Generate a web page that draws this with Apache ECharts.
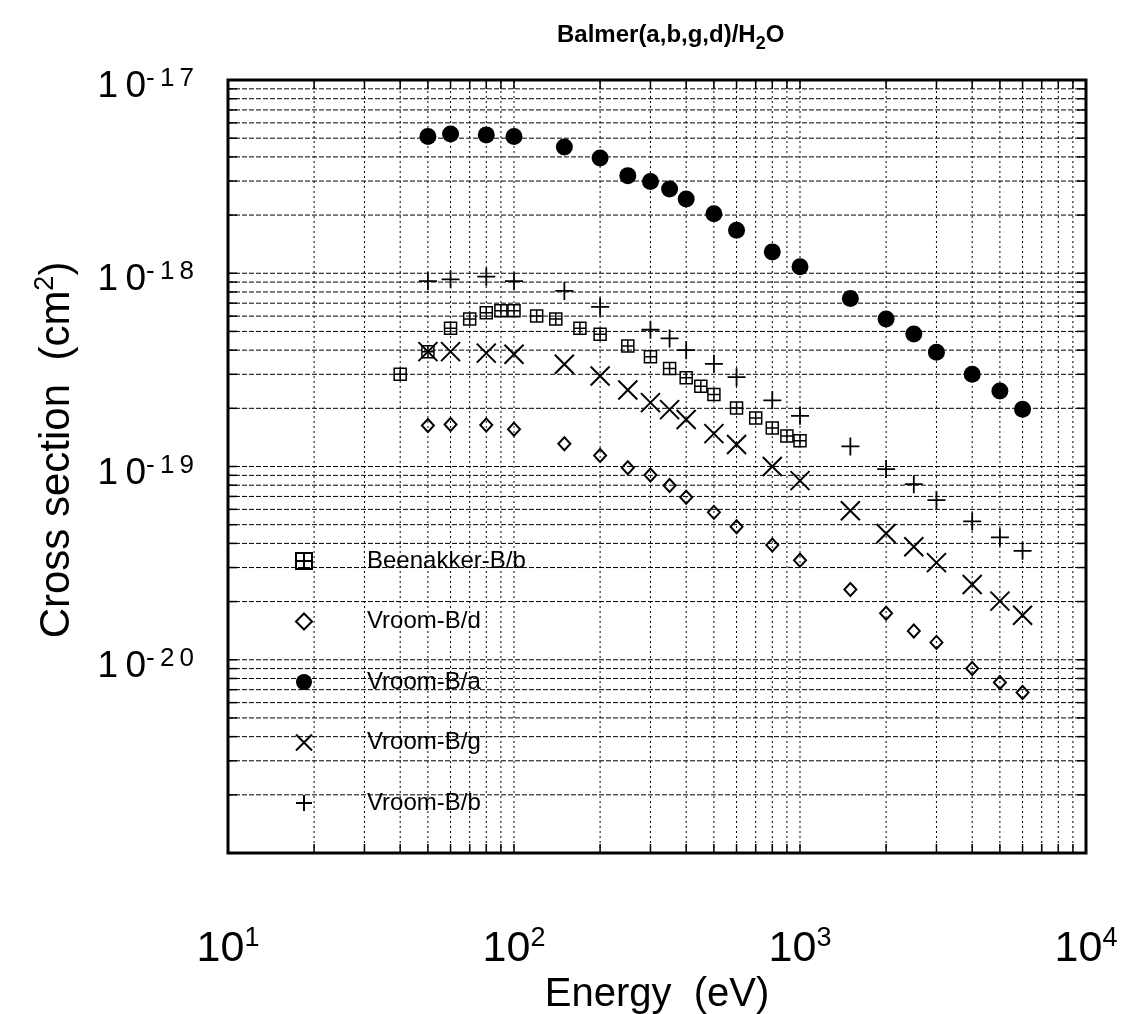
<!DOCTYPE html>
<html>
<head>
<meta charset="utf-8">
<title>Balmer(a,b,g,d)/H2O</title>
<script src="https://cdn.jsdelivr.net/npm/echarts@6/dist/echarts.min.js"></script>
<style>
  html, body { margin: 0; padding: 0; background: #fff; }
  #chart { width: 1124px; height: 1014px; }
</style>
</head>
<body>
<div id="chart"></div>
<script>
// Balmer emission cross sections for H+ on H2O (cm^2) versus projectile energy (eV)

const energyBeenakker = [40, 50, 60, 70, 80, 90, 100, 120, 140, 170, 200, 250, 300, 350, 400, 450, 500, 600, 700, 800, 900, 1000];
const beenakkerB = [3.0e-19, 3.93e-19, 5.2e-19, 5.8e-19, 6.25e-19, 6.4e-19, 6.4e-19, 6.0e-19, 5.8e-19, 5.2e-19, 4.83e-19, 4.2e-19, 3.7e-19, 3.21e-19, 2.88e-19, 2.6e-19, 2.36e-19, 2.01e-19, 1.78e-19, 1.58e-19, 1.44e-19, 1.36e-19];

const energyVroom = [50, 60, 80, 100, 150, 200, 250, 300, 350, 400, 500, 600, 800, 1000, 1500, 2000, 2500, 3000, 4000, 5000, 6000];
const vroomD = [1.63e-19, 1.65e-19, 1.64e-19, 1.56e-19, 1.31e-19, 1.14e-19, 9.86e-20, 9.04e-20, 7.98e-20, 6.93e-20, 5.79e-20, 4.88e-20, 3.92e-20, 3.27e-20, 2.31e-20, 1.74e-20, 1.41e-20, 1.23e-20, 9.0e-21, 7.63e-21, 6.77e-21];
const vroomA = [5.1e-18, 5.25e-18, 5.2e-18, 5.1e-18, 4.5e-18, 3.95e-18, 3.2e-18, 2.98e-18, 2.73e-18, 2.42e-18, 2.03e-18, 1.67e-18, 1.29e-18, 1.08e-18, 7.4e-19, 5.8e-19, 4.85e-19, 3.9e-19, 3.0e-19, 2.46e-19, 1.98e-19];
const vroomG = [3.93e-19, 3.93e-19, 3.86e-19, 3.81e-19, 3.38e-19, 2.94e-19, 2.49e-19, 2.14e-19, 1.97e-19, 1.75e-19, 1.48e-19, 1.3e-19, 1.0e-19, 8.45e-20, 5.9e-20, 4.5e-20, 3.84e-20, 3.18e-20, 2.45e-20, 2.01e-20, 1.7e-20];

const energyVroomB = [50, 60, 80, 100, 150, 200, 300, 350, 400, 500, 600, 800, 1000, 1500, 2000, 2500, 3000, 4000, 5000, 6000];
const vroomB = [9.1e-19, 9.3e-19, 9.6e-19, 9.1e-19, 8.1e-19, 6.7e-19, 5.1e-19, 4.6e-19, 4.0e-19, 3.4e-19, 2.9e-19, 2.2e-19, 1.83e-19, 1.27e-19, 9.7e-20, 8.1e-20, 6.7e-20, 5.2e-20, 4.3e-20, 3.66e-20];

const seriesNames = ['Beenakker-B/b', 'Vroom-B/d', 'Vroom-B/a', 'Vroom-B/g', 'Vroom-B/b'];

// decade tick labels (powers of ten)
const xExponents = [1, 2, 3, 4];
const yExponents = [-21, -20, -19, -18, -17];

const X_MIN = 10, X_MAX = 1e4;
const Y_MIN = 1e-21, Y_MAX = 1e-17;

const FONT = "'Liberation Sans', Arial, Helvetica, sans-serif";
const THIN = '\u2009';

function pairs(xs, ys) { return xs.map((x, i) => [x, ys[i]]); }

// positions m x 10^k (m = 1..9) strictly inside the axis range
function logGridValues(lo, hi) {
  const out = [];
  const k0 = Math.round(Math.log10(lo)), k1 = Math.round(Math.log10(hi));
  for (let k = k0; k < k1; k++) {
    for (let m = 1; m <= 9; m++) {
      const v = m * Math.pow(10, k);
      if (v > lo * 1.0001 && v < hi * 0.9999) out.push(v);
    }
  }
  return out;
}
const xGrid = logGridValues(X_MIN, X_MAX);
const yGrid = logGridValues(Y_MIN, Y_MAX);

function expOf(v, list) {
  const e = Math.round(Math.log10(v));
  return list.indexOf(e) >= 0 ? e : null;
}
function spaced(s) { return String(s).split('').join(THIN); }

const hollow = (w) => ({ color: 'rgba(0,0,0,0)', borderColor: '#000', borderWidth: w, opacity: 1 });

const SYM_BOXPLUS = 'path://M0,0L10,0L10,10L0,10Z M5,0L5,10 M0,5L10,5';
const SYM_CROSS = 'path://M0,0L10,10 M10,0L0,10';
const SYM_PLUS = 'path://M5,0L5,10 M0,5L10,5';

const chart = echarts.init(document.getElementById('chart'), null, { renderer: 'canvas' });

// full-height dotted / full-width dashed grid lines; item = [x, y, kind]
function gridLine(params, api) {
  const kind = api.value(2);
  let a, b, dash;
  if (kind === 0) {
    a = api.coord([api.value(0), Y_MIN]); b = api.coord([api.value(0), Y_MAX]); dash = [2, 3];
  } else {
    a = api.coord([X_MIN, api.value(1)]); b = api.coord([X_MAX, api.value(1)]); dash = [5, 2];
  }
  return {
    type: 'line', silent: true,
    shape: { x1: a[0], y1: a[1], x2: b[0], y2: b[1] },
    style: { stroke: '#000', lineWidth: 1, lineDash: dash }
  };
}
const gridData = xGrid.map(v => [v, Y_MIN, 0]).concat(yGrid.map(v => [X_MIN, v, 1]));

// short inward ticks on all four sides of the frame; item = [x, y, side]
function frameTick(params, api) {
  const side = api.value(2);
  const p = api.coord([api.value(0), api.value(1)]);
  const L = 9;
  let q;
  if (side === 0) q = [p[0], p[1] - L];
  else if (side === 1) q = [p[0], p[1] + L];
  else if (side === 2) q = [p[0] + L, p[1]];
  else q = [p[0] - L, p[1]];
  return { type: 'line', silent: true, shape: { x1: p[0], y1: p[1], x2: q[0], y2: q[1] }, style: { stroke: '#000', lineWidth: 1.5 } };
}
const tickData = []
  .concat(xGrid.map(v => [v, Y_MIN, 0]), xGrid.map(v => [v, Y_MAX, 1]))
  .concat(yGrid.map(v => [X_MIN, v, 2]), yGrid.map(v => [X_MAX, v, 3]));

const option = {
  animation: false,
  backgroundColor: '#fff',
  textStyle: { fontFamily: FONT, color: '#000' },
  title: {
    text: '{t|Balmer(a,b,g,d)/H}{sub|2}{t|O}',
    left: 552, top: 12,
    textStyle: {
      rich: {
        t: { fontFamily: FONT, fontSize: 24, fontWeight: 'bold', color: '#000', lineHeight: 36 },
        sub: { fontFamily: FONT, fontSize: 18, fontWeight: 'bold', color: '#000', lineHeight: 18, verticalAlign: 'bottom' }
      }
    }
  },
  legend: {
    orient: 'vertical',
    left: 295, top: 549,
    padding: 0,
    itemWidth: 16, itemHeight: 16,
    itemGap: 36.5,
    data: seriesNames,
    selectedMode: false,
    itemStyle: { opacity: 1 },
    textStyle: { fontFamily: FONT, fontSize: 24, color: '#000', lineHeight: 24, padding: [0, 0, 0, 50] }
  },
  grid: {
    left: 228, top: 80, width: 858, height: 773,
    containLabel: false,
    outerBoundsMode: 'none',
    show: true, borderColor: '#000', borderWidth: 3
  },
  graphic: [
    {
      type: 'text',
      x: 57, y: 450,
      rotation: Math.PI / 2,
      style: {
        text: '{n|Cross section  (cm}{s|2}{n|)}',
        align: 'center', verticalAlign: 'middle',
        rich: {
          n: { fontFamily: FONT, fontSize: 42, lineHeight: 50, fill: '#000' },
          s: { fontFamily: FONT, fontSize: 27, lineHeight: 27, fill: '#000', verticalAlign: 'top' }
        }
      }
    }
  ],
  xAxis: {
    type: 'log', logBase: 10, min: X_MIN, max: X_MAX,
    axisLine: { show: false }, axisTick: { show: false }, splitLine: { show: false },
    axisLabel: {
      margin: 72,
      formatter: (v) => {
        const e = expOf(v, xExponents);
        return e === null ? '' : '{b|10}{s|' + e + '}';
      },
      rich: {
        b: { fontFamily: FONT, fontSize: 43, lineHeight: 48, color: '#000' },
        s: { fontFamily: FONT, fontSize: 27, lineHeight: 27, color: '#000', verticalAlign: 'top' }
      }
    },
    name: 'Energy  (eV)',
    nameLocation: 'middle', nameGap: 114,
    nameTextStyle: { fontFamily: FONT, fontSize: 40, color: '#000' }
  },
  yAxis: {
    type: 'log', logBase: 10, min: Y_MIN, max: Y_MAX,
    axisLine: { show: false }, axisTick: { show: false }, splitLine: { show: false },
    axisLabel: {
      margin: 34,
      padding: [14, 0, 0, 0],
      formatter: (v) => {
        const e = expOf(v, yExponents);
        return e === null ? '' : '{b|' + spaced('10') + '}{s|' + spaced(e) + '}';
      },
      rich: {
        b: { fontFamily: FONT, fontSize: 37, lineHeight: 42, color: '#000' },
        s: { fontFamily: FONT, fontSize: 26, lineHeight: 26, color: '#000', verticalAlign: 'top' }
      }
    }
  },
  series: [
    { name: 'grid', type: 'custom', renderItem: gridLine, data: gridData, silent: true, z: 1 },
    { name: 'ticks', type: 'custom', renderItem: frameTick, data: tickData, silent: true, z: 2 },
    {
      name: 'Beenakker-B/b', type: 'scatter', z: 5,
      symbol: SYM_BOXPLUS, symbolSize: 12,
      itemStyle: hollow(1.5),
      data: pairs(energyBeenakker, beenakkerB)
    },
    {
      name: 'Vroom-B/d', type: 'scatter', z: 5,
      symbol: 'diamond', symbolSize: [12, 13],
      itemStyle: hollow(2),
      data: pairs(energyVroom, vroomD)
    },
    {
      name: 'Vroom-B/a', type: 'scatter', z: 5,
      symbol: 'circle', symbolSize: 17,
      itemStyle: { color: '#000', opacity: 1 },
      data: pairs(energyVroom, vroomA)
    },
    {
      name: 'Vroom-B/g', type: 'scatter', z: 5,
      symbol: SYM_CROSS, symbolSize: 19,
      itemStyle: hollow(2),
      data: pairs(energyVroom, vroomG)
    },
    {
      name: 'Vroom-B/b', type: 'scatter', z: 5,
      symbol: SYM_PLUS, symbolSize: 18,
      itemStyle: hollow(1.8),
      data: pairs(energyVroomB, vroomB)
    }
  ]
};

chart.setOption(option);
</script>
</body>
</html>
